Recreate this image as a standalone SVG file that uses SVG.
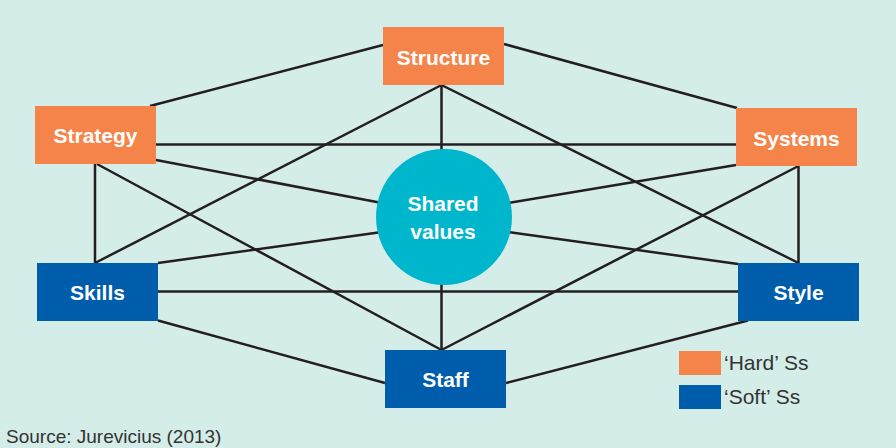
<svg xmlns="http://www.w3.org/2000/svg" width="896" height="448" viewBox="0 0 896 448">
  <style>
    .bg { fill: #d5ede8; }
    .hard { fill: #f5844a; }
    .soft { fill: #005dab; }
    .core { fill: #00b6cc; }
    .edge { stroke: #231f20; stroke-width: 2.5; fill: none; stroke-linecap: butt; }
    .label { font-family: "Liberation Sans", Arial, sans-serif; font-weight: bold; font-size: 21px; fill: #ffffff; text-anchor: middle; }
    .key { font-family: "Liberation Sans", Arial, sans-serif; font-size: 21px; fill: #333333; }
    .note { font-family: "Liberation Sans", Arial, sans-serif; font-size: 19px; fill: #333333; }
  </style>

  <rect class="bg" x="0" y="0" width="896" height="448"/>

  <!-- links between the seven elements -->
  <g id="connectors">
    <path class="edge" d="M150,106 L383,45"/>
    <path class="edge" d="M504,44 L737,108"/>
    <path class="edge" d="M441.5,85 L95,263"/>
    <path class="edge" d="M441.5,85 L798.5,263"/>
    <path class="edge" d="M441.5,85 L441.5,350"/>
    <path class="edge" d="M156,144.5 L736,144.5"/>
    <path class="edge" d="M95,164 L95,263"/>
    <path class="edge" d="M97,164 L441.5,350"/>
    <path class="edge" d="M156,160 L382,203"/>
    <path class="edge" d="M736,165 L508,203"/>
    <path class="edge" d="M798.5,166 L798.5,263"/>
    <path class="edge" d="M798.5,166 L441.5,350"/>
    <path class="edge" d="M158,263 L382,232"/>
    <path class="edge" d="M158,291.5 L738,291.5"/>
    <path class="edge" d="M158,320.5 L385,383"/>
    <path class="edge" d="M738,264 L508,232"/>
    <path class="edge" d="M748,320.5 L506,383"/>
  </g>

  <g id="structure">
    <rect class="hard" x="383" y="27" width="121" height="58"/>
    <text class="label" x="443.5" y="64.5">Structure</text>
  </g>

  <g id="strategy">
    <rect class="hard" x="35" y="106" width="121" height="58"/>
    <text class="label" x="95.5" y="143">Strategy</text>
  </g>

  <g id="systems">
    <rect class="hard" x="736" y="108" width="121" height="58"/>
    <text class="label" x="796.5" y="145.5">Systems</text>
  </g>

  <g id="shared-values">
    <circle class="core" cx="444" cy="217" r="68"/>
    <text class="label" x="443" y="211">Shared</text>
    <text class="label" x="443" y="239">values</text>
  </g>

  <g id="skills">
    <rect class="soft" x="37" y="263" width="121" height="58"/>
    <text class="label" x="97.5" y="300">Skills</text>
  </g>

  <g id="style">
    <rect class="soft" x="738" y="263" width="121" height="58"/>
    <text class="label" x="798.5" y="300">Style</text>
  </g>

  <g id="staff">
    <rect class="soft" x="385" y="350" width="121" height="58"/>
    <text class="label" x="445.5" y="387">Staff</text>
  </g>

  <g id="legend">
    <rect class="hard" x="679" y="351" width="42" height="24"/>
    <text class="key" x="724" y="370">‘Hard’ Ss</text>
    <rect class="soft" x="679" y="385" width="42" height="24"/>
    <text class="key" x="724" y="404">‘Soft’ Ss</text>
  </g>

  <text class="note" x="6" y="443">Source: Jurevicius (2013)</text>
</svg>
